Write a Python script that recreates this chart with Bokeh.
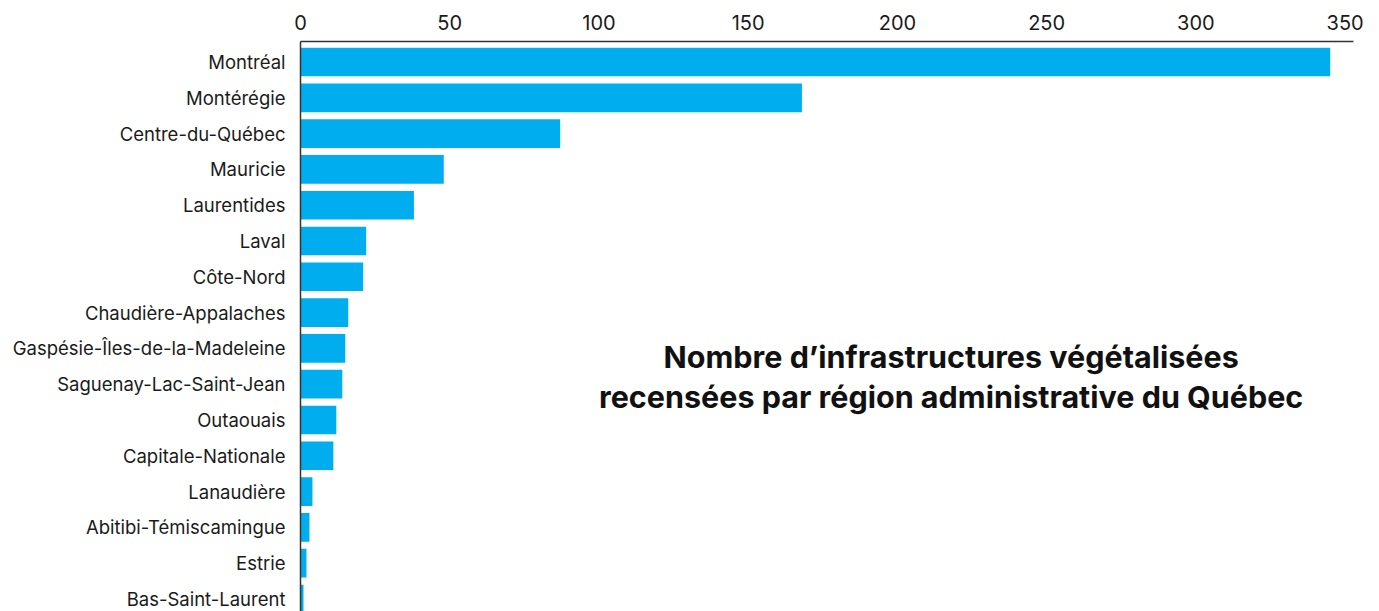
from bokeh.plotting import figure
from bokeh.models import Range1d, FixedTicker, LinearAxis, Label, ColumnDataSource
from bokeh.embed import file_html
from bokeh.resources import INLINE

regions = ["Montréal", "Montérégie", "Centre-du-Québec", "Mauricie", "Laurentides",
           "Laval", "Côte-Nord", "Chaudière-Appalaches", "Gaspésie-Îles-de-la-Madeleine",
           "Saguenay-Lac-Saint-Jean", "Outaouais", "Capitale-Nationale", "Lanaudière",
           "Abitibi-Témiscamingue", "Estrie", "Bas-Saint-Laurent"]
counts = [345, 168, 87, 48, 38, 22, 21, 16, 15, 14, 12, 11, 4, 3, 2, 1]
x_ticks = [0, 50, 100, 150, 200, 250, 300, 350]
title_lines = ["Nombre d’infrastructures végétalisées",
               "recensées par région administrative du Québec"]

positions = list(range(len(regions)))
src = ColumnDataSource(dict(y=positions, right=counts, name=regions))

FONT = "Inter"
INK = "#1a1a1a"

p = figure(width=1371, height=611, output_backend="svg", toolbar_location=None,
           x_range=Range1d(0, 352.8), y_range=Range1d(15.35, -0.573),
           x_axis_location=None, y_axis_location=None,
           min_border_left=300, min_border_right=18, min_border_top=41,
           min_border_bottom=0, background_fill_color="white",
           border_fill_color="white")
p.outline_line_color = None
p.xgrid.visible = False
p.ygrid.visible = False

p.hbar(y="y", left=0, right="right", height=0.8, source=src,
       fill_color="#00AEEF", line_color=None)

xa = LinearAxis(ticker=FixedTicker(ticks=x_ticks))
xa.major_tick_line_color = None
xa.minor_tick_line_color = None
xa.major_tick_out = 0
xa.major_tick_in = 0
xa.axis_line_color = "#333333"
xa.axis_line_width = 1.5
xa.major_label_text_font = FONT
xa.major_label_text_font_size = "20px"
xa.major_label_text_color = INK
xa.major_label_standoff = 12
p.add_layout(xa, "above")

ya = LinearAxis(ticker=FixedTicker(ticks=positions),
                major_label_overrides={i: r for i, r in zip(positions, regions)})
ya.major_tick_line_color = None
ya.minor_tick_line_color = None
ya.major_tick_out = 0
ya.major_tick_in = 0
ya.axis_line_color = "#333333"
ya.axis_line_width = 1.5
ya.major_label_text_font = FONT
ya.major_label_text_font_size = "18.5px"
ya.major_label_text_color = INK
ya.major_label_standoff = 15
p.add_layout(ya, "left")

title = Label(x=218, y=8.78, text="\n".join(title_lines), text_align="center",
              text_baseline="middle", text_font=FONT, text_font_size="30.5px",
              text_font_style="bold", text_color="#111111", text_line_height=1.07)
p.add_layout(title)

open("out.html", "w").write(file_html(p, INLINE))
